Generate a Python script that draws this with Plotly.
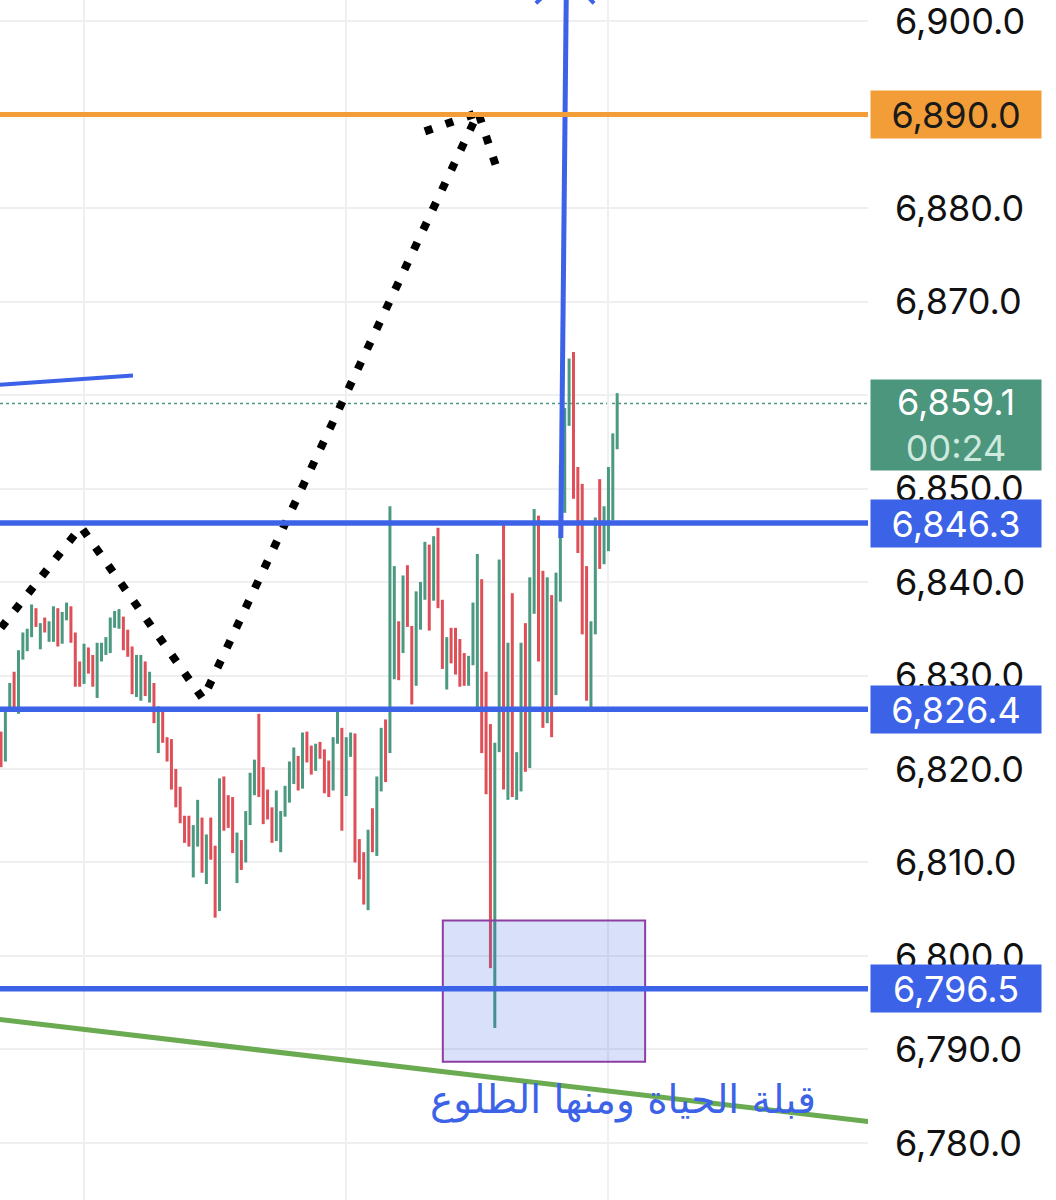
import plotly.graph_objects as go

# ---------------- data ----------------
high = [6824.0, 6826.5, 6829.2, 6830.4, 6832.7, 6834.6, 6835.0, 6837.6, 6837.2, 6835.6,
        6836.2, 6835.8, 6837.4, 6837.2, 6836.8, 6837.8, 6837.4, 6834.6, 6831.5, 6833.4,
        6833.0, 6832.2, 6833.5, 6833.5, 6834.1, 6836.2, 6836.9, 6837.1, 6836.3, 6834.9,
        6833.1, 6832.2, 6832.2, 6831.5, 6830.4, 6829.2, 6826.7, 6826.4, 6823.4, 6823.2,
        6820.0, 6818.1, 6815.0, 6815.0, 6814.0, 6816.7, 6814.8, 6813.0, 6814.8, 6811.8,
        6819.0, 6819.2, 6817.2, 6817.0, 6813.2, 6812.4, 6815.5, 6819.6, 6821.0, 6825.9,
        6820.2, 6817.8, 6815.9, 6817.7, 6815.5, 6818.2, 6820.8, 6822.3, 6821.4, 6823.9,
        6824.0, 6822.5, 6822.7, 6822.9, 6822.1, 6820.9, 6823.4, 6826.6, 6824.4, 6823.4,
        6823.9, 6823.8, 6812.5, 6811.1, 6813.5, 6815.8, 6819.2, 6824.4, 6825.3, 6848.1,
        6841.7, 6835.8, 6840.7, 6841.8, 6835.3, 6839.0, 6840.0, 6844.3, 6844.0, 6844.9,
        6845.8, 6838.1, 6834.1, 6835.1, 6835.1, 6833.9, 6832.4, 6832.1, 6837.8, 6843.0,
        6840.3, 6830.4, 6824.8, 6822.8, 6842.4, 6846.2, 6833.5, 6838.8, 6821.8, 6833.5,
        6835.6, 6840.5, 6847.8, 6847.1, 6841.2, 6840.5, 6838.6, 6841.0, 6852.5, 6858.6,
        6863.9, 6864.6, 6852.3, 6850.5, 6841.7, 6835.8, 6846.9, 6851.0, 6848.1, 6852.3,
        6855.9, 6860.2]
low = [6820.2, 6820.8, 6826.1, 6826.1, 6825.9, 6831.7, 6832.6, 6834.1, 6835.2, 6832.8,
       6834.6, 6833.6, 6833.6, 6833.1, 6833.4, 6835.9, 6833.5, 6828.8, 6828.8, 6829.1,
       6830.2, 6828.8, 6827.6, 6831.5, 6832.2, 6832.4, 6835.1, 6835.0, 6832.7, 6832.0,
       6828.0, 6827.7, 6827.3, 6827.8, 6827.1, 6824.9, 6821.7, 6822.8, 6820.8, 6817.8,
       6815.9, 6814.2, 6812.1, 6811.7, 6808.4, 6811.7, 6808.9, 6807.7, 6810.3, 6804.1,
       6804.8, 6813.4, 6813.7, 6811.0, 6807.8, 6809.2, 6810.0, 6814.0, 6817.2, 6817.0,
       6814.1, 6814.6, 6812.1, 6812.3, 6811.1, 6814.9, 6816.4, 6818.4, 6817.7, 6817.9,
       6820.7, 6819.4, 6819.8, 6821.1, 6817.4, 6817.0, 6817.7, 6822.7, 6813.4, 6817.1,
       6821.3, 6810.0, 6808.2, 6805.5, 6804.9, 6811.1, 6810.7, 6817.6, 6818.6, 6821.7,
       6829.6, 6829.5, 6832.4, 6835.2, 6826.9, 6828.9, 6834.9, 6838.1, 6834.8, 6838.0,
       6837.2, 6830.7, 6828.5, 6831.3, 6830.1, 6828.8, 6828.9, 6828.9, 6831.1, 6826.5,
       6821.7, 6817.3, 6798.7, 6792.3, 6821.8, 6817.8, 6816.7, 6817.0, 6816.7, 6817.6,
       6819.7, 6820.1, 6836.6, 6831.5, 6824.4, 6824.9, 6823.4, 6827.9, 6837.9, 6847.4,
       6856.7, 6848.9, 6843.1, 6834.4, 6827.3, 6826.6, 6834.4, 6841.4, 6841.9, 6843.3,
       6846.6, 6854.2]
direction = list("rggrggggrg" "rggrggrrrg" "rrggggggrr" "rggrgrgrrr" "rrrrggrgrr"
                 "grrrgrgggr" "rrrgggggrg" "rrgrrrggrg" "grrrgrggrg" "grgrrgggrg"
                 "rrgrrrrggg" "rrrggrgrgg" "rggrrgrggg" "grrrrggrgg" "gg")
candle_x = list(range(len(high)))

price_ticks = [6780, 6790, 6800, 6810, 6820, 6830, 6840, 6850, 6860, 6870, 6880, 6890, 6900]
hidden_ticks = [6860, 6890]   # covered by the price label boxes

blue_levels = [6846.3, 6826.4, 6796.5]
orange_level = 6890.0
last_price = 6859.1
countdown = "00:24"
time_grid = [19, 79, 139]

path_x = [0, 18.3, 46.2, 109.2, 113.7]
path_y = [6835.1, 6845.9, 6827.5, 6890.2, 6883.9]
hat_x = [97.0, 109.2]
hat_y = [6888.2, 6890.2]

blue_trend_x = [-0.3, 30.2]
blue_trend_y = [6861.1, 6862.1]

arrow_x = [128.1, 129.4]
arrow_y = [6844.7, 6905.0]
arrow_wing_x = [122.4, 129.4, 135.7]
arrow_wing_y = [6901.9, 6905.0, 6901.9]

green_trend_x = [-0.3, 198.5]
green_trend_y = [6793.2, 6782.3]

box_x = [101.1, 147.4]
box_y = [6788.7, 6803.8]

note_text = "قبلة الحياة ومنها الطلوع"
note_x = 142.3
note_y = 6784.6

# ---------------- style ----------------
UP = "#4A9980"
DOWN = "#DE4F57"
BLUE = "#3C62E8"
ORANGE = "#F29D38"
GREEN_LINE = "#6AAA50"
LBL_GREEN = "#4B967D"
GRID = "#EFEFF2"
FONT = "Inter"
FS = 36

fig = go.Figure()

for col, key in ((UP, "g"), (DOWN, "r")):
    xs, ys = [], []
    for i, d in enumerate(direction):
        if d == key:
            xs += [candle_x[i], candle_x[i], None]
            ys += [low[i], high[i], None]
    fig.add_trace(go.Scatter(x=xs, y=ys, mode="lines",
                             line=dict(color=col, width=3),
                             hoverinfo="skip", showlegend=False))

shapes = []
shapes.append(dict(type="rect", xref="x", yref="y", x0=box_x[0], x1=box_x[1],
                   y0=box_y[0], y1=box_y[1], fillcolor="rgba(60,98,232,0.2)",
                   line=dict(color="#8E3EA2", width=2), layer="above"))
for lv in blue_levels:
    shapes.append(dict(type="line", xref="x domain", yref="y", x0=0, x1=1, y0=lv, y1=lv,
                       line=dict(color=BLUE, width=5.5), layer="above"))
shapes.append(dict(type="line", xref="x domain", yref="y", x0=0, x1=1,
                   y0=orange_level, y1=orange_level,
                   line=dict(color=ORANGE, width=5), layer="above"))
shapes.append(dict(type="line", xref="x domain", yref="y", x0=0, x1=1,
                   y0=last_price, y1=last_price,
                   line=dict(color=LBL_GREEN, width=1.5, dash="dot"), layer="below"))
fig.update_layout(shapes=shapes)

fig.add_trace(go.Scatter(x=green_trend_x, y=green_trend_y, mode="lines",
                         line=dict(color=GREEN_LINE, width=5), hoverinfo="skip", showlegend=False))
fig.add_trace(go.Scatter(x=blue_trend_x, y=blue_trend_y, mode="lines",
                         line=dict(color=BLUE, width=4), hoverinfo="skip", showlegend=False))
fig.add_trace(go.Scatter(x=arrow_x, y=arrow_y, mode="lines",
                         line=dict(color=BLUE, width=5), hoverinfo="skip", showlegend=False))
fig.add_trace(go.Scatter(x=arrow_wing_x, y=arrow_wing_y, mode="lines",
                         line=dict(color=BLUE, width=4), hoverinfo="skip", showlegend=False))
for px, py in ((path_x, path_y), (hat_x, hat_y)):
    fig.add_trace(go.Scatter(x=px, y=py, mode="lines",
                             line=dict(color="black", width=8, dash="8px,14px"),
                             hoverinfo="skip", showlegend=False))

ann = []
LBL_X = 870 / 868
for lv in blue_levels:
    ann.append(dict(xref="paper", yref="y", x=LBL_X, y=lv, xanchor="left", yanchor="middle",
                    text=f"{lv:,.1f}", showarrow=False, bgcolor=BLUE, width=170, height=47,
                    borderpad=0, align="center", font=dict(family=FONT, size=FS, color="white")))
ann.append(dict(xref="paper", yref="y", x=LBL_X, y=orange_level, xanchor="left", yanchor="middle",
                text=f"{orange_level:,.1f}", showarrow=False, bgcolor=ORANGE, width=170, height=47,
                borderpad=0, align="center", font=dict(family=FONT, size=FS, color="#1a1a1a")))
ann.append(dict(xref="paper", yref="y", x=LBL_X, y=last_price, xanchor="left", yanchor="top",
                yshift=24, text=f"{last_price:,.1f}<br><span style='color:#CFE9DE'>{countdown}</span>",
                showarrow=False, bgcolor=LBL_GREEN, width=170, height=90, borderpad=0,
                align="center", font=dict(family=FONT, size=FS, color="white")))
ann.append(dict(xref="x", yref="y", x=note_x, y=note_y, text=note_text, showarrow=False,
                xanchor="center", yanchor="middle",
                font=dict(family="DejaVu Sans", size=39, color=BLUE)))
fig.update_layout(annotations=ann)

tick_text = ["" if v in hidden_ticks else f"{v:,.1f}" for v in price_ticks]

fig.update_layout(
    width=1056, height=1200,
    margin=dict(l=0, r=188, t=0, b=0, autoexpand=False),
    paper_bgcolor="white", plot_bgcolor="white",
    xaxis=dict(range=[-0.23, 198.4], showticklabels=False, ticks="", tickvals=time_grid,
               showgrid=True, gridcolor=GRID, gridwidth=2, zeroline=False, showline=False,
               fixedrange=True),
    yaxis=dict(range=[6773.9, 6902.25], side="right", tickmode="array",
               tickvals=price_ticks, ticktext=tick_text,
               showgrid=True, gridcolor=GRID, gridwidth=2,
               zeroline=False, showline=False, ticks="", ticklabelstandoff=26,
               ticklabeloverflow="allow",
               tickfont=dict(family=FONT, size=FS, color="#111111"), automargin=False),
)

fig.write_html("out.html", config={"displayModeBar": False},
               post_script="document.body.style.margin='0px';")
